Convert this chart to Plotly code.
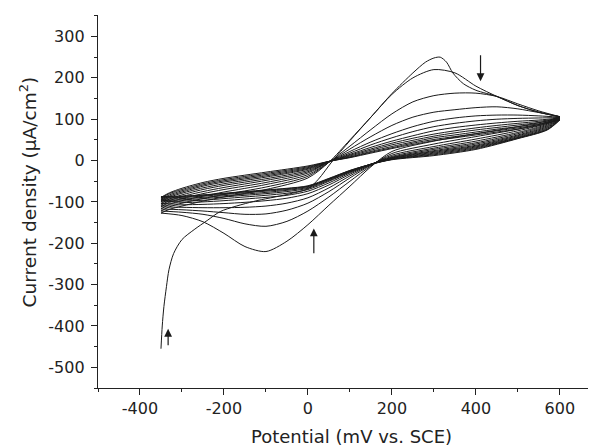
import plotly.graph_objects as go

# Cyclic voltammograms, 12 cycles, -350 mV .. 600 mV vs. SCE

# first forward sweep (starts at the rest potential, big cathodic tail)
first_fwd_x = [-350, -347, -343, -337, -331, -320, -300, -271, -240, -208, -130, -50, 0, 25, 57,
               100, 150, 200, 250, 280, 300, 315, 330, 345, 370, 400, 450, 500, 550, 600]
first_fwd_y = [-455, -400, -353, -305, -264, -225, -191, -167, -145, -123, -99, -82, -68, -45, -3,
               48, 105, 162, 212, 238, 248, 250, 238, 212, 186, 170, 155, 133, 117, 106]

# forward sweeps of cycles 2..12
fwd_x = [-350, -330, -300, -250, -200, -100, 0, 50, 100, 150, 200, 250, 300, 350, 400, 450, 500, 550, 600]
fwd_y = [
    [-127, -118, -110, -98, -88, -70, -42, -4, 50, 105, 160, 200, 220, 212, 180, 155, 133, 117, 106],
    [-122, -112, -103, -92, -82, -64, -38, -4, 35, 75, 113, 142, 157, 163, 163, 155, 137, 120, 106],
    [-117, -106, -97, -86, -76, -58, -34, -4, 28, 58, 85, 105, 117, 123, 128, 130, 125, 116, 106],
    [-112, -101, -92, -80, -70, -53, -30, -3, 22, 45, 65, 82, 95, 103, 108, 110, 110, 108, 105],
    [-108, -97, -87, -75, -65, -48, -27, -3, 18, 38, 55, 70, 82, 90, 96, 100, 102, 103, 104],
    [-104, -93, -83, -70, -60, -44, -24, -3, 15, 32, 47, 60, 72, 80, 86, 91, 95, 98, 103],
    [-100, -89, -79, -66, -56, -40, -21, -3, 13, 28, 42, 54, 64, 72, 79, 85, 90, 95, 102],
    [-97, -86, -76, -62, -52, -37, -19, -2, 11, 25, 38, 49, 59, 67, 74, 80, 86, 92, 101],
    [-94, -83, -73, -59, -49, -34, -17, -2, 9, 22, 34, 45, 55, 62, 69, 76, 82, 89, 100],
    [-91, -80, -70, -56, -46, -31, -15, -2, 8, 20, 31, 42, 51, 58, 65, 72, 79, 87, 99],
    [-89, -78, -67, -53, -43, -28, -13, -2, 7, 18, 29, 39, 48, 55, 62, 69, 76, 85, 98],
]

# reverse sweeps of cycles 1..12
rev_x = [600, 570, 500, 400, 300, 200, 150, 100, 50, 0, -50, -100, -150, -200, -250, -300, -350]
rev_y = [
    [106, 96, 82, 65, 47, 22, -15, -62, -108, -155, -195, -220, -208, -176, -148, -133, -127],
    [106, 93, 76, 58, 40, 17, -13, -50, -88, -122, -147, -159, -153, -140, -130, -125, -122],
    [106, 90, 72, 52, 34, 13, -11, -42, -75, -103, -120, -129, -130, -126, -122, -119, -117],
    [106, 88, 68, 47, 30, 10, -10, -37, -66, -90, -103, -110, -113, -114, -114, -113, -112],
    [105, 86, 65, 43, 27, 8, -9, -33, -59, -80, -91, -97, -101, -104, -106, -107, -108],
    [104, 84, 62, 40, 24, 7, -9, -30, -54, -74, -84, -89, -93, -97, -100, -102, -104],
    [103, 82, 60, 37, 22, 6, -9, -28, -50, -70, -79, -84, -88, -92, -96, -98, -100],
    [102, 80, 58, 35, 20, 5, -9, -27, -48, -67, -75, -80, -84, -88, -92, -95, -97],
    [101, 78, 56, 33, 18, 4, -9, -26, -46, -65, -72, -77, -81, -85, -89, -92, -94],
    [100, 76, 55, 31, 16, 3, -9, -25, -45, -63, -70, -74, -78, -82, -86, -89, -91],
    [99, 75, 54, 29, 14, 3, -9, -24, -44, -62, -68, -72, -76, -80, -84, -87, -89],
    [98, 74, 53, 27, 12, 2, -9, -24, -43, -61, -67, -71, -75, -79, -83, -86, -87],
]

# tick labels use a plain hyphen, as in the original figure
x_ticks = [-400, -200, 0, 200, 400, 600]
x_labels = ["-400", "-200", "0", "200", "400", "600"]
y_ticks = [300, 200, 100, 0, -100, -200, -300, -400, -500]
y_labels = ["300", "200", "100", "0", "-100", "-200", "-300", "-400", "-500"]

# arrows: (x, tail y, head y)
arrow_x = [411, 14, -333]
arrow_tail = [258, -228, -450]
arrow_head = [192, -164, -407]

fig = go.Figure()
line = dict(color="#1a1a1a", width=1, shape="spline", smoothing=0.8)

fig.add_trace(go.Scatter(x=first_fwd_x, y=first_fwd_y, mode="lines", line=line))
for ys in fwd_y:
    fig.add_trace(go.Scatter(x=fwd_x, y=ys, mode="lines", line=line))
for ys in rev_y:
    fig.add_trace(go.Scatter(x=rev_x, y=ys, mode="lines", line=line))

for ax_, t, h in zip(arrow_x, arrow_tail, arrow_head):
    fig.add_annotation(x=ax_, y=h, ax=ax_, ay=t, xref="x", yref="y", axref="x", ayref="y",
                       text="", showarrow=True, arrowhead=2, arrowsize=1.3, arrowwidth=1.2,
                       arrowcolor="#1a1a1a")

# axis titles as annotations so they sit exactly where the original has them
fig.add_annotation(text="Potential (mV vs. SCE)", xref="paper", yref="paper",
                   x=0.51, y=-0.131, xanchor="center", yanchor="middle",
                   showarrow=False, font=dict(size=18))
fig.add_annotation(text="Current density (μA/cm<sup>2</sup>)", xref="paper", yref="paper",
                   x=-0.14, y=0.525, xanchor="center", yanchor="middle", textangle=-90,
                   showarrow=False, font=dict(size=18.5))

# the page body adds an 8 px offset, so the figure is 8 px smaller and margins shifted
axis_font = dict(family="DejaVu Sans", size=16, color="#222")
fig.update_layout(
    width=588, height=438,
    margin=dict(l=90, r=0, t=7, b=58),
    paper_bgcolor="white", plot_bgcolor="white",
    showlegend=False,
    font=axis_font,
    xaxis=dict(range=[-500, 686], tickvals=x_ticks, ticktext=x_labels, automargin=False,
               showgrid=False, zeroline=False,
               showline=True, linecolor="#222", linewidth=1.3,
               ticks="outside", ticklen=6, tickwidth=1.2, tickcolor="#222",
               minor=dict(dtick=100, tick0=0, ticks="outside", ticklen=3, tickcolor="#222")),
    yaxis=dict(range=[-550, 352], tickvals=y_ticks, ticktext=y_labels, automargin=False,
               showgrid=False, zeroline=False,
               showline=True, linecolor="#222", linewidth=1.3,
               ticks="outside", ticklen=6, tickwidth=1.2, tickcolor="#222", ticklabelstandoff=3,
               minor=dict(dtick=50, tick0=0, ticks="outside", ticklen=3, tickcolor="#222")),
)

fig.write_html("out.html")
